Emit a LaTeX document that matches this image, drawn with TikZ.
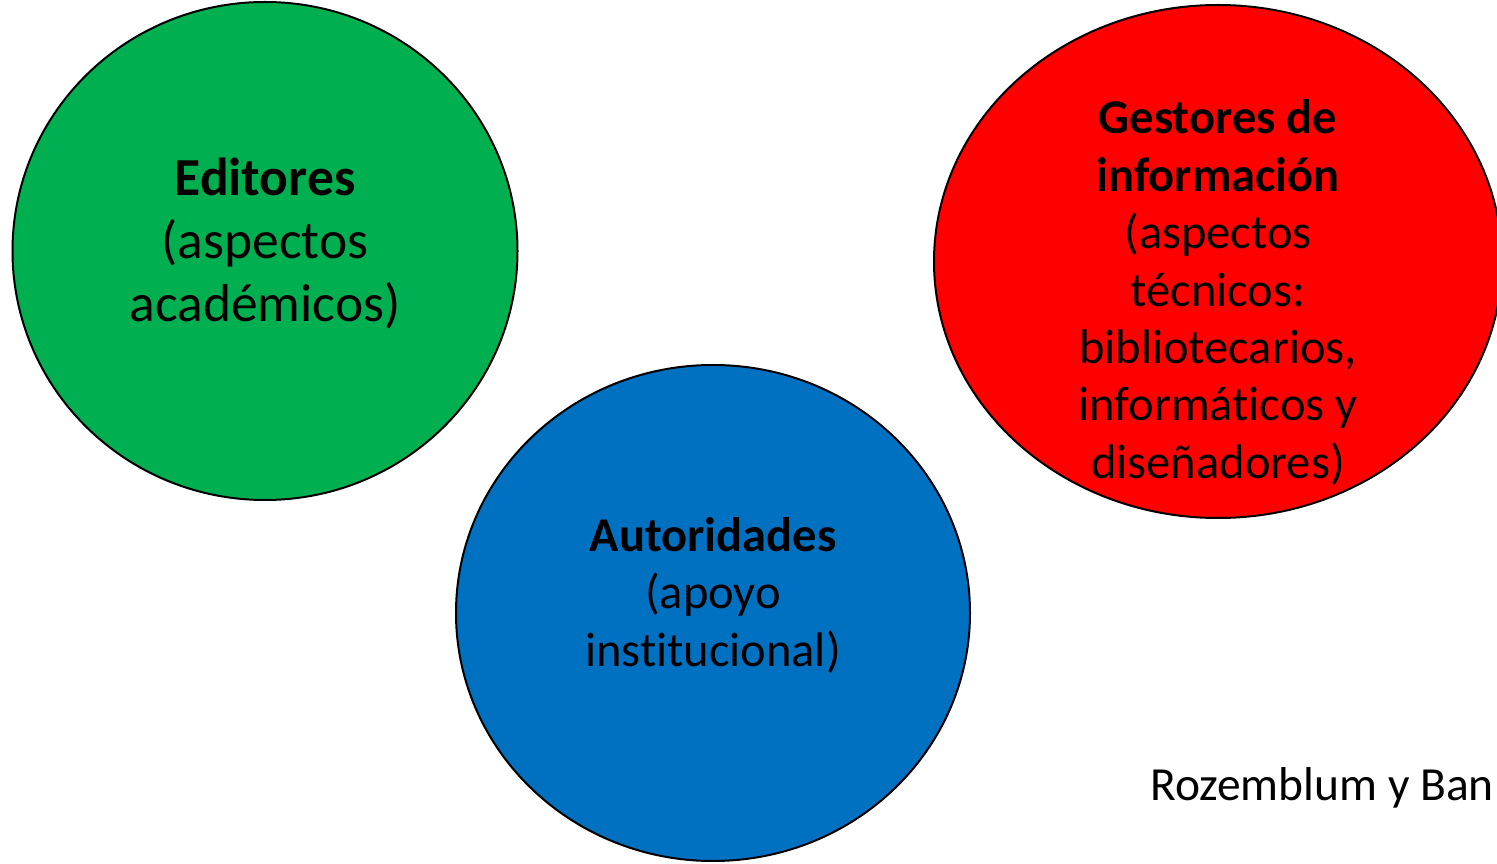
\documentclass[tikz,border=0pt]{standalone}
\usepackage{fontspec}
\setmainfont[Ligatures=NoCommon]{Carlito}
\usetikzlibrary{shapes.geometric}
\definecolor{verde}{HTML}{00B050}
\definecolor{azul}{HTML}{0070C0}
\definecolor{rojo}{HTML}{FF0000}
\tikzset{
  circulo/.style={ellipse, draw=black, line width=2pt, inner sep=0pt},
  texto/.style={align=center, inner sep=0pt, font=\fontsize{48.5pt}{57.4pt}\selectfont},
  textogrande/.style={align=center, inner sep=0pt, font=\fontsize{53.5pt}{63pt}\selectfont}
}
\begin{document}
\begin{tikzpicture}[x=1pt,y=1pt]
        \useasboundingbox (0,0) rectangle (1497,863);
        \clip (0,0) rectangle (1497,863);
        % circulos
        \node[circulo, fill=verde, minimum width=505pt, minimum height=498pt] (editores) at (265,612) {};
        \node[circulo, fill=azul, minimum width=514pt, minimum height=496pt] (autoridades) at (713,250) {};
        \node[circulo, fill=rojo, minimum width=568pt, minimum height=513pt] (gestores) at (1218,601.5) {};
        % textos
        \node[textogrande] (teditores) at ([yshift=8pt]editores.center) {\textbf{Editores}\\(aspectos\\académicos)};
        \node[texto] (tautoridades) at ([yshift=18pt]autoridades.center) {\textbf{Autoridades}\\(apoyo\\institucional)};
        \node[texto] (tgestores) at ([yshift=-31pt]gestores.center) {\textbf{Gestores de}\\\textbf{información}\\(aspectos\\técnicos:\\bibliotecarios,\\informáticos y\\diseñadores)};
        \node[texto, font=\fontsize{47.5pt}{57.4pt}\selectfont, anchor=base west] (fuente) at (1150,63) {Rozemblum y Ban};
\end{tikzpicture}
\end{document}
